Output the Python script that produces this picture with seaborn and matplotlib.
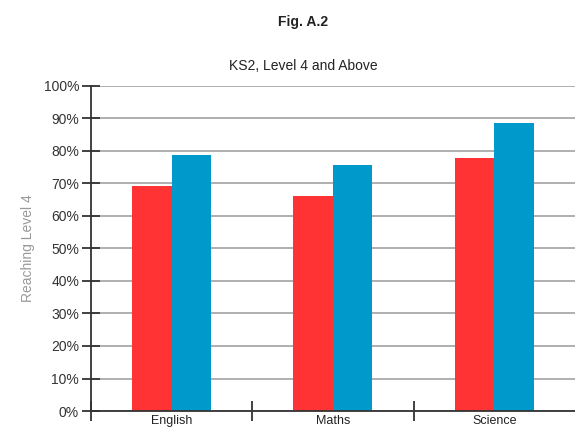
import matplotlib
matplotlib.use("Agg")
import matplotlib.pyplot as plt
import pandas as pd
import seaborn as sns
from matplotlib.ticker import FixedLocator, PercentFormatter

sns.set_theme(style="white")
plt.rcParams["font.family"] = ["Liberation Sans", "DejaVu Sans"]

SUBJECTS = ["English", "Maths", "Science"]
SERIES = ["Series 1", "Series 2"]
SERIES_1 = [69.3, 66.2, 77.9]
SERIES_2 = [78.7, 75.6, 88.5]
COLORS = {"Series 1": "#FF3333", "Series 2": "#0099CC"}

df = pd.DataFrame({
    "subject": SUBJECTS * 2,
    "series": [SERIES[0]] * 3 + [SERIES[1]] * 3,
    "value": SERIES_1 + SERIES_2,
})

fig = plt.figure(figsize=(5.75, 4.32), dpi=100)
ax = fig.add_axes([0.158, 0.0486, 0.842, 0.7524])

sns.barplot(
    data=df, x="subject", y="value", hue="series", hue_order=SERIES,
    palette=COLORS, width=0.49, gap=0, saturation=1, ax=ax,
    legend=False, linewidth=0,
)

ax.set_ylim(0, 100)
ax.set_xlim(-0.5, 2.5)
ax.set_yticks(range(0, 101, 10))
ax.yaxis.set_major_formatter(PercentFormatter(decimals=0))
ax.set_axisbelow(True)
ax.grid(axis="y", color="#9a9a9a", linewidth=1.1)
ax.grid(False, axis="x")

for side in ["top", "right"]:
    ax.spines[side].set_visible(False)
for side in ["left", "bottom"]:
    ax.spines[side].set_color("#333333")
    ax.spines[side].set_linewidth(1.3)

ax.tick_params(axis="y", direction="inout", length=13, width=1.3, color="#333333",
               labelsize=10, labelcolor="#333333", pad=2, left=True)
ax.tick_params(axis="x", which="major", length=0, labelsize=9, labelcolor="#222222", pad=3)
ax.xaxis.set_minor_locator(FixedLocator([-0.5, 0.5, 1.5]))
ax.tick_params(axis="x", which="minor", direction="inout", length=14, width=1.3,
               color="#333333", bottom=True)

ax.set_xlabel("")
ax.set_ylabel("Reaching Level 4", fontsize=10, color="#999999", labelpad=6)

fig.text(0.527, 0.949, "Fig. A.2", ha="center", va="center", fontsize=10,
         fontweight="bold", color="#222222")
fig.text(0.527, 0.847, "KS2, Level 4 and Above", ha="center", va="center",
         fontsize=10, color="#222222")

fig.savefig("out.png", dpi=100)
